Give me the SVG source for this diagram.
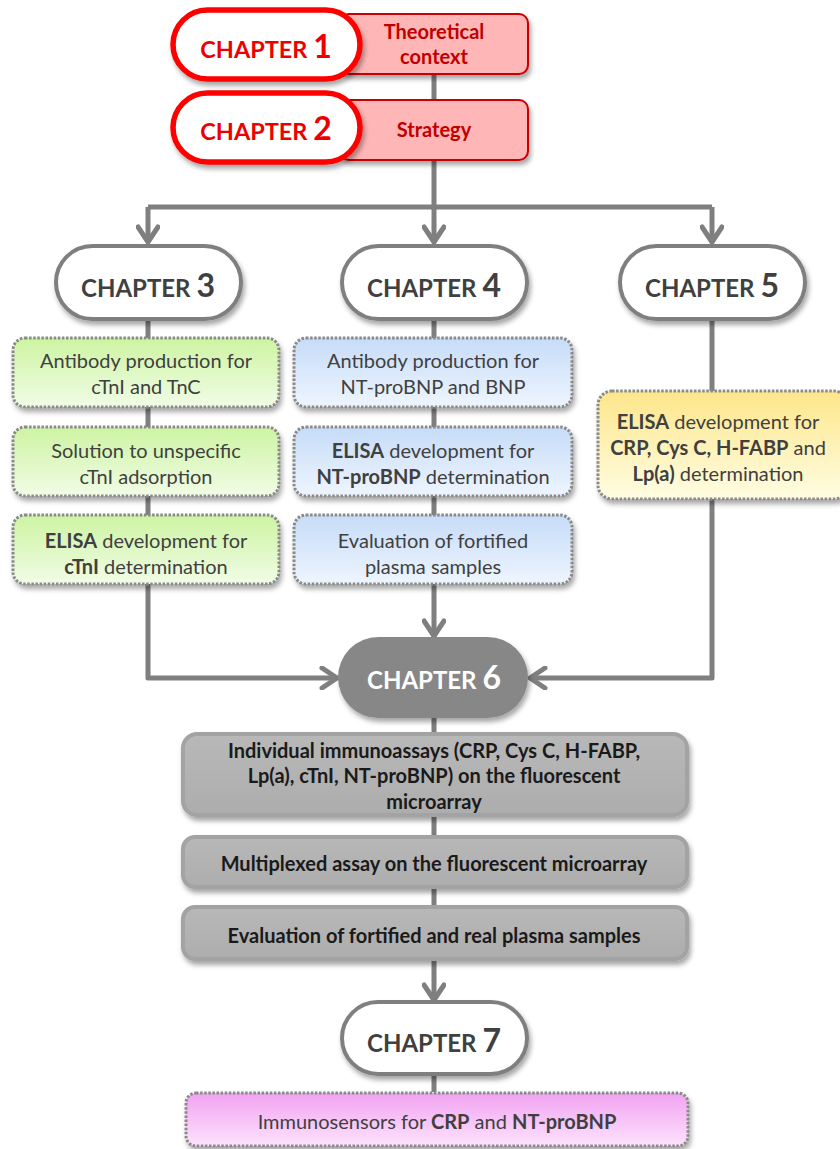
<svg xmlns="http://www.w3.org/2000/svg" width="840" height="1149" viewBox="0 0 840 1149">
<defs>
<filter id="sh" x="-20%" y="-20%" width="140%" height="150%">
<feDropShadow dx="2" dy="4" stdDeviation="2.5" flood-color="#000" flood-opacity="0.35"/>
</filter>
<linearGradient id="gGreen" x1="0" y1="0" x2="0" y2="1"><stop offset="0" stop-color="#cdf4a2"/><stop offset="1" stop-color="#f1fce6"/></linearGradient>
<linearGradient id="gBlue" x1="0" y1="0" x2="0" y2="1"><stop offset="0" stop-color="#c6dcf8"/><stop offset="1" stop-color="#eef5fe"/></linearGradient>
<linearGradient id="gYellow" x1="0" y1="0" x2="0" y2="1"><stop offset="0" stop-color="#fde68a"/><stop offset="1" stop-color="#fffde3"/></linearGradient>
<linearGradient id="gPink" x1="0" y1="0" x2="0" y2="1"><stop offset="0" stop-color="#f1a3f1"/><stop offset="1" stop-color="#fde2fd"/></linearGradient>
<linearGradient id="gGray" x1="0" y1="0" x2="0" y2="1"><stop offset="0" stop-color="#b8b8b8"/><stop offset="1" stop-color="#adadad"/></linearGradient>
<marker id="arr" viewBox="0 0 20 24" refX="18" refY="12" markerWidth="20" markerHeight="24" markerUnits="userSpaceOnUse" orient="auto">
<path d="M3,2 L18,12 L3,22" fill="none" stroke="#7f7f7f" stroke-width="5" stroke-linecap="round" stroke-linejoin="round"/>
</marker>
</defs>
<style>
text{font-family:Lato,"Open Sans","Liberation Sans",sans-serif;text-anchor:middle}
.conn{fill:none;stroke:#7f7f7f;stroke-width:5;stroke-linejoin:round}
.redpill{fill:#fff;stroke:#ff0000;stroke-width:5.5}
.redbox{fill:#ffb6b6;stroke:#c80000;stroke-width:2}
.pill{fill:#fff;stroke:#7f7f7f;stroke-width:4}
.dot{stroke:#8a8a8a;stroke-width:3;stroke-dasharray:2.5 1.6}
.gbox{fill:url(#gGray);stroke:#a3a3a3;stroke-width:4}
.chr{font-weight:bold;font-size:23.5px;fill:#ee0000}
.chg{font-weight:bold;font-size:24px;fill:#404040}
.num{font-size:32px}
.rt{font-weight:bold;font-size:20px;fill:#c00000}
.bt{font-size:20px;fill:#404040}
.b{font-weight:bold}
.gt{font-weight:bold;font-size:20px;fill:#1a1a1a}
</style>
<g id="connectors">
<path class="conn" d="M434,74 V100"/>
<path class="conn" d="M434,160 V207"/>
<path class="conn" d="M148,207 H712"/>
<path class="conn" d="M148,207 V242" marker-end="url(#arr)"/>
<path class="conn" d="M434,207 V242" marker-end="url(#arr)"/>
<path class="conn" d="M712,207 V242" marker-end="url(#arr)"/>
<path class="conn" d="M148,320 V678 H337" marker-end="url(#arr)"/>
<path class="conn" d="M434,320 V636" marker-end="url(#arr)"/>
<path class="conn" d="M712,320 V678 H530" marker-end="url(#arr)"/>
<path class="conn" d="M434,718 V1000" marker-end="url(#arr)"/>
<path class="conn" d="M434,1075 V1092"/>
</g>
<g id="ch1">
<rect class="redbox" x="340" y="14" width="188" height="60" rx="9" filter="url(#sh)"/>
<rect class="redpill" x="173" y="10" width="187" height="69" rx="34.5" filter="url(#sh)"/>
<text class="chr" x="266" y="58">CHAPTER <tspan class="num">1</tspan></text>
<text class="rt" x="434" y="39">Theoretical</text>
<text class="rt" x="434" y="64">context</text>
</g>
<g id="ch2">
<rect class="redbox" x="340" y="100" width="188" height="60" rx="9" filter="url(#sh)"/>
<rect class="redpill" x="173" y="93" width="187" height="69" rx="34.5" filter="url(#sh)"/>
<text class="chr" x="266" y="140">CHAPTER <tspan class="num">2</tspan></text>
<text class="rt" x="434" y="137">Strategy</text>
</g>
<g id="ch3">
<rect class="pill" x="56" y="246" width="185" height="73" rx="36.5" filter="url(#sh)"/>
<text class="chg" x="148" y="297">CHAPTER <tspan class="num">3</tspan></text>
</g>
<g id="ch4">
<rect class="pill" x="342" y="246" width="185" height="73" rx="36.5" filter="url(#sh)"/>
<text class="chg" x="434" y="297">CHAPTER <tspan class="num">4</tspan></text>
</g>
<g id="ch5">
<rect class="pill" x="620" y="246" width="185" height="73" rx="36.5" filter="url(#sh)"/>
<text class="chg" x="712" y="297">CHAPTER <tspan class="num">5</tspan></text>
</g>
<g id="g1">
<rect class="dot" fill="url(#gGreen)" x="13" y="338" width="266" height="69" rx="12" filter="url(#sh)"/>
<text class="bt" x="146" y="368">Antibody production for</text>
<text class="bt" x="146" y="394">cTnI and TnC</text>
</g>
<g id="g2">
<rect class="dot" fill="url(#gGreen)" x="13" y="427" width="266" height="69" rx="12" filter="url(#sh)"/>
<text class="bt" x="146" y="458">Solution to unspecific</text>
<text class="bt" x="146" y="484">cTnI adsorption</text>
</g>
<g id="g3">
<rect class="dot" fill="url(#gGreen)" x="13" y="515" width="266" height="69" rx="12" filter="url(#sh)"/>
<text class="bt" x="146" y="548"><tspan class="b">ELISA</tspan> development for</text>
<text class="bt" x="146" y="574"><tspan class="b">cTnI</tspan> determination</text>
</g>
<g id="b1">
<rect class="dot" fill="url(#gBlue)" x="294" y="338" width="278" height="69" rx="12" filter="url(#sh)"/>
<text class="bt" x="433" y="368">Antibody production for</text>
<text class="bt" x="433" y="394">NT-proBNP and BNP</text>
</g>
<g id="b2">
<rect class="dot" fill="url(#gBlue)" x="294" y="427" width="278" height="69" rx="12" filter="url(#sh)"/>
<text class="bt" x="433" y="458"><tspan class="b">ELISA</tspan> development for</text>
<text class="bt" x="433" y="484"><tspan class="b">NT-proBNP</tspan> determination</text>
</g>
<g id="b3">
<rect class="dot" fill="url(#gBlue)" x="294" y="515" width="278" height="69" rx="12" filter="url(#sh)"/>
<text class="bt" x="433" y="548">Evaluation of fortified</text>
<text class="bt" x="433" y="574">plasma samples</text>
</g>
<g id="y1">
<rect class="dot" fill="url(#gYellow)" x="598" y="391" width="250" height="108" rx="14" filter="url(#sh)"/>
<text class="bt" x="718" y="429"><tspan class="b">ELISA</tspan> development for</text>
<text class="bt" x="718" y="455"><tspan class="b">CRP, Cys C, H-FABP</tspan> and</text>
<text class="bt" x="718" y="481"><tspan class="b">Lp(a)</tspan> determination</text>
</g>
<g id="ch6">
<rect x="338" y="637" width="190" height="81" rx="40.5" fill="#878787" filter="url(#sh)"/>
<text class="chg" x="434" y="689" style="fill:#fff">CHAPTER <tspan class="num">6</tspan></text>
</g>
<g id="s1">
<rect class="gbox" x="183" y="734" width="504" height="81" rx="14" filter="url(#sh)"/>
<text class="gt" x="434" y="758">Individual immunoassays (CRP, Cys C, H-FABP,</text>
<text class="gt" x="434" y="783">Lp(a), cTnI, NT-proBNP) on the fluorescent</text>
<text class="gt" x="434" y="809">microarray</text>
</g>
<g id="s2">
<rect class="gbox" x="183" y="837" width="504" height="50" rx="12" filter="url(#sh)"/>
<text class="gt" x="434" y="871">Multiplexed assay on the fluorescent microarray</text>
</g>
<g id="s3">
<rect class="gbox" x="183" y="907" width="504" height="52" rx="12" filter="url(#sh)"/>
<text class="gt" x="434" y="943">Evaluation of fortified and real plasma samples</text>
</g>
<g id="ch7">
<rect class="pill" x="342" y="1002" width="185" height="72" rx="36" filter="url(#sh)"/>
<text class="chg" x="434" y="1052">CHAPTER <tspan class="num">7</tspan></text>
</g>
<g id="p1">
<rect class="dot" fill="url(#gPink)" x="186" y="1093" width="502" height="53" rx="10" filter="url(#sh)"/>
<text class="bt" x="437" y="1129">Immunosensors for <tspan class="b">CRP</tspan> and <tspan class="b">NT-proBNP</tspan></text>
</g>
</svg>
